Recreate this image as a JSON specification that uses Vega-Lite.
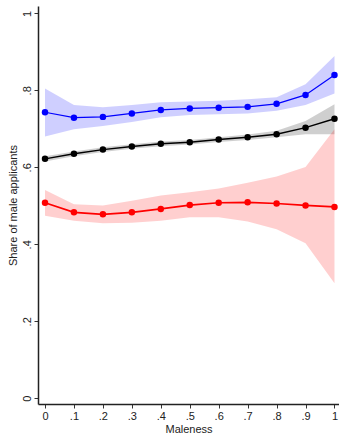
{
  "$schema": "https://vega.github.io/schema/vega-lite/v6.json",
  "autosize": {"type": "none"},
  "padding": {"left": 38, "top": 6, "right": 0, "bottom": 30},
  "width": 301,
  "height": 398,
  "background": "white",
  "config": {
    "view": {"stroke": null},
    "font": "Liberation Sans",
    "axis": {
      "grid": false,
      "domainColor": "#222222",
      "domainWidth": 1.5,
      "tickColor": "#333333",
      "tickSize": 4,
      "tickWidth": 1,
      "labelFont": "Liberation Sans",
      "labelFontSize": 11,
      "labelColor": "#222222",
      "titleFont": "Liberation Sans",
      "titleFontSize": 11,
      "titleFontWeight": "normal",
      "titleColor": "#222222"
    }
  },
  "data": {
    "values": [
      {"s": "a_blue", "x": 0, "m": 0.743, "lo": 0.680, "hi": 0.805},
      {"s": "a_blue", "x": 0.1, "m": 0.729, "lo": 0.699, "hi": 0.762},
      {"s": "a_blue", "x": 0.2, "m": 0.731, "lo": 0.707, "hi": 0.756},
      {"s": "a_blue", "x": 0.3, "m": 0.740, "lo": 0.718, "hi": 0.762},
      {"s": "a_blue", "x": 0.4, "m": 0.749, "lo": 0.730, "hi": 0.769},
      {"s": "a_blue", "x": 0.5, "m": 0.753, "lo": 0.736, "hi": 0.771},
      {"s": "a_blue", "x": 0.6, "m": 0.755, "lo": 0.738, "hi": 0.773},
      {"s": "a_blue", "x": 0.7, "m": 0.757, "lo": 0.740, "hi": 0.777},
      {"s": "a_blue", "x": 0.8, "m": 0.765, "lo": 0.747, "hi": 0.782},
      {"s": "a_blue", "x": 0.9, "m": 0.788, "lo": 0.762, "hi": 0.816},
      {"s": "a_blue", "x": 1, "m": 0.840, "lo": 0.792, "hi": 0.889},
      {"s": "b_black", "x": 0, "m": 0.622, "lo": 0.615, "hi": 0.629},
      {"s": "b_black", "x": 0.1, "m": 0.635, "lo": 0.629, "hi": 0.641},
      {"s": "b_black", "x": 0.2, "m": 0.646, "lo": 0.640, "hi": 0.652},
      {"s": "b_black", "x": 0.3, "m": 0.654, "lo": 0.648, "hi": 0.660},
      {"s": "b_black", "x": 0.4, "m": 0.661, "lo": 0.655, "hi": 0.667},
      {"s": "b_black", "x": 0.5, "m": 0.665, "lo": 0.659, "hi": 0.671},
      {"s": "b_black", "x": 0.6, "m": 0.672, "lo": 0.666, "hi": 0.678},
      {"s": "b_black", "x": 0.7, "m": 0.678, "lo": 0.671, "hi": 0.685},
      {"s": "b_black", "x": 0.8, "m": 0.686, "lo": 0.678, "hi": 0.695},
      {"s": "b_black", "x": 0.9, "m": 0.703, "lo": 0.686, "hi": 0.720},
      {"s": "b_black", "x": 1, "m": 0.726, "lo": 0.686, "hi": 0.764},
      {"s": "c_red", "x": 0, "m": 0.508, "lo": 0.474, "hi": 0.541},
      {"s": "c_red", "x": 0.1, "m": 0.483, "lo": 0.461, "hi": 0.504},
      {"s": "c_red", "x": 0.2, "m": 0.478, "lo": 0.455, "hi": 0.501},
      {"s": "c_red", "x": 0.3, "m": 0.483, "lo": 0.456, "hi": 0.513},
      {"s": "c_red", "x": 0.4, "m": 0.492, "lo": 0.461, "hi": 0.527},
      {"s": "c_red", "x": 0.5, "m": 0.502, "lo": 0.470, "hi": 0.535},
      {"s": "c_red", "x": 0.6, "m": 0.508, "lo": 0.470, "hi": 0.545},
      {"s": "c_red", "x": 0.7, "m": 0.509, "lo": 0.459, "hi": 0.560},
      {"s": "c_red", "x": 0.8, "m": 0.506, "lo": 0.439, "hi": 0.576},
      {"s": "c_red", "x": 0.9, "m": 0.501, "lo": 0.403, "hi": 0.601},
      {"s": "c_red", "x": 1, "m": 0.497, "lo": 0.299, "hi": 0.699}
    ]
  },
  "encoding": {
    "x": {
      "field": "x",
      "type": "quantitative",
      "scale": {"domain": [-0.0242, 1.0156], "nice": false, "zero": false},
      "axis": {
        "title": "Maleness",
        "values": [0, 0.1, 0.2, 0.3, 0.4, 0.5, 0.6, 0.7, 0.8, 0.9, 1],
        "labelExpr": "datum.value == 0 ? '0' : datum.value == 1 ? '1' : replace(format(datum.value, '.1f'), '0.', '.')",
        "labelPadding": 2,
        "titlePadding": 2,
        "labelFlush": false,
        "labelOverlap": false
      }
    }
  },
  "layer": [
    {
      "mark": {"type": "area", "opacity": 0.19, "interpolate": "linear"},
      "encoding": {
        "y": {
          "field": "lo",
          "type": "quantitative",
          "scale": {"domain": [-0.0148, 1.019], "nice": false, "zero": false},
          "axis": {
            "title": "Share of male applicants",
            "values": [0, 0.2, 0.4, 0.6, 0.8, 1],
            "labelExpr": "datum.value == 0 ? '0' : datum.value == 1 ? '1' : replace(format(datum.value, '.1f'), '0.', '.')",
            "labelAngle": -90,
            "labelAlign": "center",
            "labelBaseline": "bottom",
            "labelPadding": 2,
            "titlePadding": 3,
            "labelFlush": false,
            "labelOverlap": false
          }
        },
        "y2": {"field": "hi"},
        "color": {
          "field": "s",
          "type": "nominal",
          "scale": {"domain": ["a_blue", "b_black", "c_red"], "range": ["#0000ff", "#000000", "#ff0000"]},
          "legend": null
        }
      }
    },
    {
      "mark": {"type": "line"},
      "encoding": {
        "y": {"field": "m", "type": "quantitative"},
        "color": {"field": "s", "type": "nominal", "legend": null},
        "strokeWidth": {
          "field": "s",
          "type": "nominal",
          "scale": {"domain": ["a_blue", "b_black", "c_red"], "range": [1.2, 1.7, 1.2]},
          "legend": null
        }
      }
    },
    {
      "mark": {"type": "point", "filled": true, "opacity": 1, "size": 42},
      "encoding": {
        "y": {"field": "m", "type": "quantitative"},
        "color": {"field": "s", "type": "nominal", "legend": null}
      }
    }
  ]
}
